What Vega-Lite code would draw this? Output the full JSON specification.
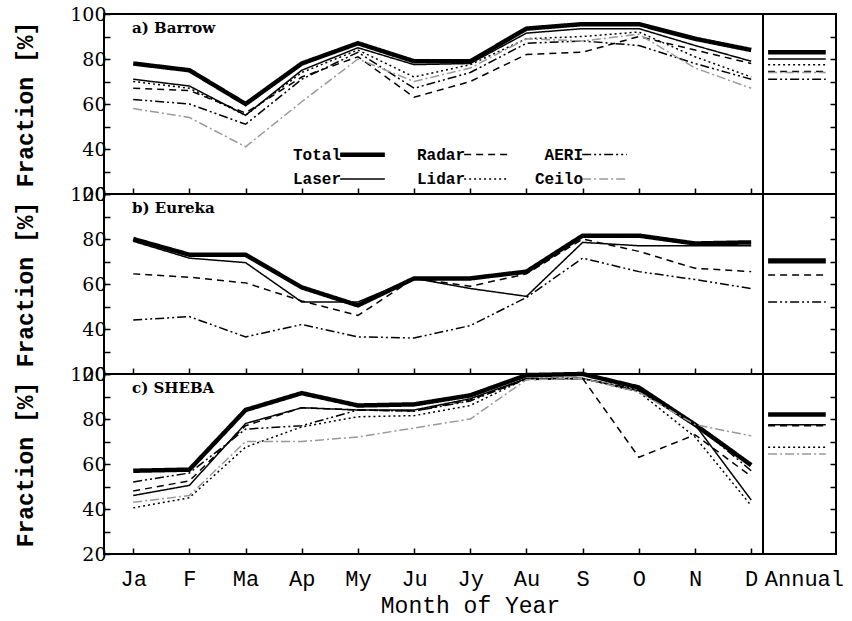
{
  "$schema": "https://vega.github.io/schema/vega-lite/v6.json",
  "background": "white",
  "padding": {"left": 13, "top": 4, "right": 4, "bottom": 4},
  "columns": 2,
  "spacing": 0,
  "bounds": "flush",
  "config": {
    "view": {"stroke": "black", "strokeWidth": 2},
    "axis": {"grid": false, "domain": false, "tickColor": "black", "tickWidth": 1.5, "labelColor": "black", "titleColor": "black"},
    "title": {"anchor": "start", "frame": "group", "offset": -31, "dx": 28, "baseline": "bottom", "font": "DejaVu Serif", "fontSize": 15, "fontWeight": "bold", "color": "black"}
  },
  "datasets": {
    "monthly": [
      {"site":"Barrow","series":"Total","month":1,"value":78},{"site":"Barrow","series":"Total","month":2,"value":75},{"site":"Barrow","series":"Total","month":3,"value":60},{"site":"Barrow","series":"Total","month":4,"value":78},{"site":"Barrow","series":"Total","month":5,"value":87},{"site":"Barrow","series":"Total","month":6,"value":79},{"site":"Barrow","series":"Total","month":7,"value":79},{"site":"Barrow","series":"Total","month":8,"value":93.5},{"site":"Barrow","series":"Total","month":9,"value":95.5},{"site":"Barrow","series":"Total","month":10,"value":95.5},{"site":"Barrow","series":"Total","month":11,"value":89},{"site":"Barrow","series":"Total","month":12,"value":84},
      {"site":"Barrow","series":"Laser","month":1,"value":71},{"site":"Barrow","series":"Laser","month":2,"value":68},{"site":"Barrow","series":"Laser","month":3,"value":55},{"site":"Barrow","series":"Laser","month":4,"value":75},{"site":"Barrow","series":"Laser","month":5,"value":85},{"site":"Barrow","series":"Laser","month":6,"value":77.5},{"site":"Barrow","series":"Laser","month":7,"value":78},{"site":"Barrow","series":"Laser","month":8,"value":91.5},{"site":"Barrow","series":"Laser","month":9,"value":93.5},{"site":"Barrow","series":"Laser","month":10,"value":93.5},{"site":"Barrow","series":"Laser","month":11,"value":86},{"site":"Barrow","series":"Laser","month":12,"value":79},
      {"site":"Barrow","series":"Radar","month":1,"value":67},{"site":"Barrow","series":"Radar","month":2,"value":66},{"site":"Barrow","series":"Radar","month":3,"value":56},{"site":"Barrow","series":"Radar","month":4,"value":72},{"site":"Barrow","series":"Radar","month":5,"value":81},{"site":"Barrow","series":"Radar","month":6,"value":63},{"site":"Barrow","series":"Radar","month":7,"value":70},{"site":"Barrow","series":"Radar","month":8,"value":82},{"site":"Barrow","series":"Radar","month":9,"value":83},{"site":"Barrow","series":"Radar","month":10,"value":90},{"site":"Barrow","series":"Radar","month":11,"value":84},{"site":"Barrow","series":"Radar","month":12,"value":78},
      {"site":"Barrow","series":"Lidar","month":1,"value":70},{"site":"Barrow","series":"Lidar","month":2,"value":67},{"site":"Barrow","series":"Lidar","month":3,"value":55},{"site":"Barrow","series":"Lidar","month":4,"value":74},{"site":"Barrow","series":"Lidar","month":5,"value":84},{"site":"Barrow","series":"Lidar","month":6,"value":72},{"site":"Barrow","series":"Lidar","month":7,"value":77.5},{"site":"Barrow","series":"Lidar","month":8,"value":89},{"site":"Barrow","series":"Lidar","month":9,"value":90},{"site":"Barrow","series":"Lidar","month":10,"value":92},{"site":"Barrow","series":"Lidar","month":11,"value":81},{"site":"Barrow","series":"Lidar","month":12,"value":72},
      {"site":"Barrow","series":"AERI","month":1,"value":62},{"site":"Barrow","series":"AERI","month":2,"value":60},{"site":"Barrow","series":"AERI","month":3,"value":51},{"site":"Barrow","series":"AERI","month":4,"value":71},{"site":"Barrow","series":"AERI","month":5,"value":83},{"site":"Barrow","series":"AERI","month":6,"value":67},{"site":"Barrow","series":"AERI","month":7,"value":74},{"site":"Barrow","series":"AERI","month":8,"value":87},{"site":"Barrow","series":"AERI","month":9,"value":88},{"site":"Barrow","series":"AERI","month":10,"value":86},{"site":"Barrow","series":"AERI","month":11,"value":78},{"site":"Barrow","series":"AERI","month":12,"value":71},
      {"site":"Barrow","series":"Ceilo","month":1,"value":58},{"site":"Barrow","series":"Ceilo","month":2,"value":54},{"site":"Barrow","series":"Ceilo","month":3,"value":41},{"site":"Barrow","series":"Ceilo","month":4,"value":61},{"site":"Barrow","series":"Ceilo","month":5,"value":80},{"site":"Barrow","series":"Ceilo","month":6,"value":70},{"site":"Barrow","series":"Ceilo","month":7,"value":76},{"site":"Barrow","series":"Ceilo","month":8,"value":89},{"site":"Barrow","series":"Ceilo","month":9,"value":88},{"site":"Barrow","series":"Ceilo","month":10,"value":91},{"site":"Barrow","series":"Ceilo","month":11,"value":76},{"site":"Barrow","series":"Ceilo","month":12,"value":67},
      {"site":"Eureka","series":"Total","month":1,"value":80},{"site":"Eureka","series":"Total","month":2,"value":73},{"site":"Eureka","series":"Total","month":3,"value":73},{"site":"Eureka","series":"Total","month":4,"value":58.5},{"site":"Eureka","series":"Total","month":5,"value":50.5},{"site":"Eureka","series":"Total","month":6,"value":62.5},{"site":"Eureka","series":"Total","month":7,"value":62.5},{"site":"Eureka","series":"Total","month":8,"value":65.5},{"site":"Eureka","series":"Total","month":9,"value":81.5},{"site":"Eureka","series":"Total","month":10,"value":81.5},{"site":"Eureka","series":"Total","month":11,"value":78},{"site":"Eureka","series":"Total","month":12,"value":78.5},
      {"site":"Eureka","series":"Laser","month":1,"value":79},{"site":"Eureka","series":"Laser","month":2,"value":71.5},{"site":"Eureka","series":"Laser","month":3,"value":69.5},{"site":"Eureka","series":"Laser","month":4,"value":52},{"site":"Eureka","series":"Laser","month":5,"value":52},{"site":"Eureka","series":"Laser","month":6,"value":62.5},{"site":"Eureka","series":"Laser","month":7,"value":58},{"site":"Eureka","series":"Laser","month":8,"value":54.5},{"site":"Eureka","series":"Laser","month":9,"value":78.5},{"site":"Eureka","series":"Laser","month":10,"value":77},{"site":"Eureka","series":"Laser","month":11,"value":77},{"site":"Eureka","series":"Laser","month":12,"value":77},
      {"site":"Eureka","series":"Radar","month":1,"value":64.5},{"site":"Eureka","series":"Radar","month":2,"value":63},{"site":"Eureka","series":"Radar","month":3,"value":60.5},{"site":"Eureka","series":"Radar","month":4,"value":52.5},{"site":"Eureka","series":"Radar","month":5,"value":46},{"site":"Eureka","series":"Radar","month":6,"value":62.5},{"site":"Eureka","series":"Radar","month":7,"value":59},{"site":"Eureka","series":"Radar","month":8,"value":64.5},{"site":"Eureka","series":"Radar","month":9,"value":80},{"site":"Eureka","series":"Radar","month":10,"value":74.5},{"site":"Eureka","series":"Radar","month":11,"value":67},{"site":"Eureka","series":"Radar","month":12,"value":65.5},
      {"site":"Eureka","series":"AERI","month":1,"value":44},{"site":"Eureka","series":"AERI","month":2,"value":45.5},{"site":"Eureka","series":"AERI","month":3,"value":36.5},{"site":"Eureka","series":"AERI","month":4,"value":42},{"site":"Eureka","series":"AERI","month":5,"value":36.5},{"site":"Eureka","series":"AERI","month":6,"value":36},{"site":"Eureka","series":"AERI","month":7,"value":41.5},{"site":"Eureka","series":"AERI","month":8,"value":54},{"site":"Eureka","series":"AERI","month":9,"value":71.5},{"site":"Eureka","series":"AERI","month":10,"value":65.5},{"site":"Eureka","series":"AERI","month":11,"value":62},{"site":"Eureka","series":"AERI","month":12,"value":58},
      {"site":"SHEBA","series":"Total","month":1,"value":57},{"site":"SHEBA","series":"Total","month":2,"value":57.5},{"site":"SHEBA","series":"Total","month":3,"value":84},{"site":"SHEBA","series":"Total","month":4,"value":91.5},{"site":"SHEBA","series":"Total","month":5,"value":86},{"site":"SHEBA","series":"Total","month":6,"value":86.5},{"site":"SHEBA","series":"Total","month":7,"value":90.5},{"site":"SHEBA","series":"Total","month":8,"value":99.5},{"site":"SHEBA","series":"Total","month":9,"value":100},{"site":"SHEBA","series":"Total","month":10,"value":94},{"site":"SHEBA","series":"Total","month":11,"value":77.5},{"site":"SHEBA","series":"Total","month":12,"value":59.5},
      {"site":"SHEBA","series":"Laser","month":1,"value":46},{"site":"SHEBA","series":"Laser","month":2,"value":50.5},{"site":"SHEBA","series":"Laser","month":3,"value":78},{"site":"SHEBA","series":"Laser","month":4,"value":85},{"site":"SHEBA","series":"Laser","month":5,"value":84},{"site":"SHEBA","series":"Laser","month":6,"value":84},{"site":"SHEBA","series":"Laser","month":7,"value":89},{"site":"SHEBA","series":"Laser","month":8,"value":98},{"site":"SHEBA","series":"Laser","month":9,"value":98},{"site":"SHEBA","series":"Laser","month":10,"value":92.5},{"site":"SHEBA","series":"Laser","month":11,"value":77.5},{"site":"SHEBA","series":"Laser","month":12,"value":44},
      {"site":"SHEBA","series":"Radar","month":1,"value":48},{"site":"SHEBA","series":"Radar","month":2,"value":52.5},{"site":"SHEBA","series":"Radar","month":3,"value":77},{"site":"SHEBA","series":"Radar","month":4,"value":85},{"site":"SHEBA","series":"Radar","month":5,"value":84},{"site":"SHEBA","series":"Radar","month":6,"value":83.5},{"site":"SHEBA","series":"Radar","month":7,"value":88.5},{"site":"SHEBA","series":"Radar","month":8,"value":97.5},{"site":"SHEBA","series":"Radar","month":9,"value":98},{"site":"SHEBA","series":"Radar","month":10,"value":63},{"site":"SHEBA","series":"Radar","month":11,"value":73},{"site":"SHEBA","series":"Radar","month":12,"value":54.5},
      {"site":"SHEBA","series":"AERI","month":1,"value":52},{"site":"SHEBA","series":"AERI","month":2,"value":56},{"site":"SHEBA","series":"AERI","month":3,"value":75.5},{"site":"SHEBA","series":"AERI","month":4,"value":77},{"site":"SHEBA","series":"AERI","month":5,"value":84},{"site":"SHEBA","series":"AERI","month":6,"value":83.5},{"site":"SHEBA","series":"AERI","month":7,"value":88},{"site":"SHEBA","series":"AERI","month":8,"value":98},{"site":"SHEBA","series":"AERI","month":9,"value":98},{"site":"SHEBA","series":"AERI","month":10,"value":93},{"site":"SHEBA","series":"AERI","month":11,"value":78},{"site":"SHEBA","series":"AERI","month":12,"value":57},
      {"site":"SHEBA","series":"Lidar","month":1,"value":40.5},{"site":"SHEBA","series":"Lidar","month":2,"value":45},{"site":"SHEBA","series":"Lidar","month":3,"value":67.5},{"site":"SHEBA","series":"Lidar","month":4,"value":76.5},{"site":"SHEBA","series":"Lidar","month":5,"value":81},{"site":"SHEBA","series":"Lidar","month":6,"value":81.5},{"site":"SHEBA","series":"Lidar","month":7,"value":86},{"site":"SHEBA","series":"Lidar","month":8,"value":98},{"site":"SHEBA","series":"Lidar","month":9,"value":98},{"site":"SHEBA","series":"Lidar","month":10,"value":92},{"site":"SHEBA","series":"Lidar","month":11,"value":72},{"site":"SHEBA","series":"Lidar","month":12,"value":41.5},
      {"site":"SHEBA","series":"Ceilo","month":1,"value":43},{"site":"SHEBA","series":"Ceilo","month":2,"value":46},{"site":"SHEBA","series":"Ceilo","month":3,"value":70},{"site":"SHEBA","series":"Ceilo","month":4,"value":70},{"site":"SHEBA","series":"Ceilo","month":5,"value":72},{"site":"SHEBA","series":"Ceilo","month":6,"value":76},{"site":"SHEBA","series":"Ceilo","month":7,"value":80},{"site":"SHEBA","series":"Ceilo","month":8,"value":97.5},{"site":"SHEBA","series":"Ceilo","month":9,"value":98},{"site":"SHEBA","series":"Ceilo","month":10,"value":92},{"site":"SHEBA","series":"Ceilo","month":11,"value":77.5},{"site":"SHEBA","series":"Ceilo","month":12,"value":72.5}
    ],
    "annual": [
      {"site":"Barrow","series":"Total","value":83},{"site":"Barrow","series":"Laser","value":80},{"site":"Barrow","series":"Lidar","value":77.5},{"site":"Barrow","series":"Radar","value":74.5},{"site":"Barrow","series":"Ceilo","value":74},{"site":"Barrow","series":"AERI","value":71},
      {"site":"Eureka","series":"Total","value":70.5},{"site":"Eureka","series":"Laser","value":69.5},{"site":"Eureka","series":"Radar","value":64},{"site":"Eureka","series":"AERI","value":52},
      {"site":"SHEBA","series":"Total","value":82},{"site":"SHEBA","series":"Laser","value":77.5},{"site":"SHEBA","series":"Radar","value":77},{"site":"SHEBA","series":"Lidar","value":67.5},{"site":"SHEBA","series":"Ceilo","value":64.5}
    ]
  },
  "resolve": {"scale": {"strokeDash": "independent", "strokeWidth": "independent", "color": "independent"}},
  "concat": [
    {
      "width": 659, "height": 180,
      "title": {"text": "a) Barrow"},
      "data": {"name": "monthly"},
      "transform": [{"filter": "datum.site == 'Barrow'"}],
      "mark": {"type": "line", "strokeJoin": "miter"},
      "encoding": {
        "x": {"field": "month", "type": "quantitative", "scale": {"domain": [0.48, 12.21], "nice": false, "zero": false},
              "axis": {"values": [1,2,3,4,5,6,7,8,9,10,11,12], "labels": false, "title": null, "tickSize": -6}},
        "y": {"field": "value", "type": "quantitative", "scale": {"domain": [20, 100], "nice": false, "zero": false},
              "axis": {"values": [20,30,40,50,60,70,80,90,100], "labelExpr": "datum.value % 20 == 0 ? datum.label : ''", "tickSize": -6, "labelPadding": 4, "labelFont": "DejaVu Serif", "labelFontSize": 19, "labelOverlap": false, "labelFlush": false, "labelBound": false, "title": "Fraction [%]", "titleFont": "Liberation Mono", "titleFontWeight": "bold", "titleFontSize": 23, "titlePadding": 32}},
        "strokeDash": {"field": "series", "type": "nominal",
              "scale": {"domain": ["Total","Radar","AERI","Laser","Lidar","Ceilo"], "range": [[1,0],[7,5],[9,3,2,3,2,3],[1,0],[2,3],[9,3,2,3]]},
              "legend": {"orient": "none", "direction": "horizontal", "legendX": 245, "legendY": 127, "columns": 3, "columnPadding": 22, "rowPadding": 3, "symbolType": "M-2,0H2", "symbolSize": 500, "labelFont": "Liberation Mono", "labelFontWeight": "bold", "labelFontSize": 16, "labelColor": "black", "labelAlign": "right", "labelOffset": -35, "title": null}},
        "strokeWidth": {"field": "series", "type": "nominal",
              "scale": {"type": "ordinal", "domain": ["Total","Radar","AERI","Laser","Lidar","Ceilo"], "range": [4.5,1.5,1.5,1.5,1.5,1.5]}},
        "color": {"field": "series", "type": "nominal",
              "scale": {"domain": ["Total","Radar","AERI","Laser","Lidar","Ceilo"], "range": ["black","black","black","black","black","#999999"]}}
      }
    },
    {
      "width": 73, "height": 180,
      "data": {"name": "annual"},
      "transform": [{"filter": "datum.site == 'Barrow'"}],
      "mark": {"type": "rule"},
      "encoding": {
        "x": {"datum": 0.07, "type": "quantitative", "scale": {"domain": [0, 1], "nice": false, "zero": false}, "axis": null},
        "x2": {"datum": 0.86},
        "y": {"field": "value", "type": "quantitative", "scale": {"domain": [20, 100], "nice": false, "zero": false},
              "axis": {"orient": "right", "values": [30,40,50,60,70,80,90], "labels": false, "title": null, "tickSize": -6}},
        "strokeDash": {"field": "series", "type": "nominal", "legend": null,
              "scale": {"domain": ["Total","Radar","AERI","Laser","Lidar","Ceilo"], "range": [[1,0],[7,5],[9,3,2,3,2,3],[1,0],[2,3],[9,3,2,3]]}},
        "strokeWidth": {"field": "series", "type": "nominal", "legend": null,
              "scale": {"type": "ordinal", "domain": ["Total","Radar","AERI","Laser","Lidar","Ceilo"], "range": [4.5,1.5,1.5,1.5,1.5,1.5]}},
        "color": {"field": "series", "type": "nominal", "legend": null,
              "scale": {"domain": ["Total","Radar","AERI","Laser","Lidar","Ceilo"], "range": ["black","black","black","black","black","#999999"]}}
      }
    },
    {
      "width": 659, "height": 180,
      "title": {"text": "b) Eureka"},
      "data": {"name": "monthly"},
      "transform": [{"filter": "datum.site == 'Eureka'"}],
      "mark": {"type": "line", "strokeJoin": "miter"},
      "encoding": {
        "x": {"field": "month", "type": "quantitative", "scale": {"domain": [0.48, 12.21], "nice": false, "zero": false},
              "axis": {"values": [1,2,3,4,5,6,7,8,9,10,11,12], "labels": false, "title": null, "tickSize": -6}},
        "y": {"field": "value", "type": "quantitative", "scale": {"domain": [20, 100], "nice": false, "zero": false},
              "axis": {"values": [20,30,40,50,60,70,80,90,100], "labelExpr": "datum.value % 20 == 0 ? datum.label : ''", "tickSize": -6, "labelPadding": 4, "labelFont": "DejaVu Serif", "labelFontSize": 19, "labelOverlap": false, "labelFlush": false, "labelBound": false, "title": "Fraction [%]", "titleFont": "Liberation Mono", "titleFontWeight": "bold", "titleFontSize": 23, "titlePadding": 32}},
        "strokeDash": {"field": "series", "type": "nominal", "legend": null,
              "scale": {"domain": ["Total","Radar","AERI","Laser","Lidar","Ceilo"], "range": [[1,0],[7,5],[9,3,2,3,2,3],[1,0],[2,3],[9,3,2,3]]}},
        "strokeWidth": {"field": "series", "type": "nominal", "legend": null,
              "scale": {"type": "ordinal", "domain": ["Total","Radar","AERI","Laser","Lidar","Ceilo"], "range": [4.5,1.5,1.5,1.5,1.5,1.5]}},
        "color": {"field": "series", "type": "nominal", "legend": null,
              "scale": {"domain": ["Total","Radar","AERI","Laser","Lidar","Ceilo"], "range": ["black","black","black","black","black","#999999"]}}
      }
    },
    {
      "width": 73, "height": 180,
      "data": {"name": "annual"},
      "transform": [{"filter": "datum.site == 'Eureka'"}],
      "mark": {"type": "rule"},
      "encoding": {
        "x": {"datum": 0.07, "type": "quantitative", "scale": {"domain": [0, 1], "nice": false, "zero": false}, "axis": null},
        "x2": {"datum": 0.86},
        "y": {"field": "value", "type": "quantitative", "scale": {"domain": [20, 100], "nice": false, "zero": false},
              "axis": {"orient": "right", "values": [30,40,50,60,70,80,90], "labels": false, "title": null, "tickSize": -6}},
        "strokeDash": {"field": "series", "type": "nominal", "legend": null,
              "scale": {"domain": ["Total","Radar","AERI","Laser","Lidar","Ceilo"], "range": [[1,0],[7,5],[9,3,2,3,2,3],[1,0],[2,3],[9,3,2,3]]}},
        "strokeWidth": {"field": "series", "type": "nominal", "legend": null,
              "scale": {"type": "ordinal", "domain": ["Total","Radar","AERI","Laser","Lidar","Ceilo"], "range": [4.5,1.5,1.5,1.5,1.5,1.5]}},
        "color": {"field": "series", "type": "nominal", "legend": null,
              "scale": {"domain": ["Total","Radar","AERI","Laser","Lidar","Ceilo"], "range": ["black","black","black","black","black","#999999"]}}
      }
    },
    {
      "width": 659, "height": 180,
      "title": {"text": "c) SHEBA"},
      "data": {"name": "monthly"},
      "transform": [{"filter": "datum.site == 'SHEBA'"}],
      "mark": {"type": "line", "strokeJoin": "miter"},
      "encoding": {
        "x": {"field": "month", "type": "quantitative", "scale": {"domain": [0.48, 12.21], "nice": false, "zero": false},
              "axis": {"values": [1,2,3,4,5,6,7,8,9,10,11,12], "labelExpr": "['Ja','F','Ma','Ap','My','Ju','Jy','Au','S','O','N','D'][datum.value - 1]", "tickSize": -6, "labelPadding": 20, "labelFont": "Liberation Mono", "labelFontSize": 22, "labelOverlap": false, "labelFlush": false, "labelBound": false, "title": "Month of Year", "titleFont": "Liberation Mono", "titleFontWeight": "normal", "titleFontSize": 23, "titleX": 366, "titleY": 40, "titleAnchor": "middle", "titleBaseline": "top"}},
        "y": {"field": "value", "type": "quantitative", "scale": {"domain": [20, 100], "nice": false, "zero": false},
              "axis": {"values": [20,30,40,50,60,70,80,90,100], "labelExpr": "datum.value % 20 == 0 ? datum.label : ''", "tickSize": -6, "labelPadding": 4, "labelFont": "DejaVu Serif", "labelFontSize": 19, "labelOverlap": false, "labelFlush": false, "labelBound": false, "title": "Fraction [%]", "titleFont": "Liberation Mono", "titleFontWeight": "bold", "titleFontSize": 23, "titlePadding": 32}},
        "strokeDash": {"field": "series", "type": "nominal", "legend": null,
              "scale": {"domain": ["Total","Radar","AERI","Laser","Lidar","Ceilo"], "range": [[1,0],[7,5],[9,3,2,3,2,3],[1,0],[2,3],[9,3,2,3]]}},
        "strokeWidth": {"field": "series", "type": "nominal", "legend": null,
              "scale": {"type": "ordinal", "domain": ["Total","Radar","AERI","Laser","Lidar","Ceilo"], "range": [4.5,1.5,1.5,1.5,1.5,1.5]}},
        "color": {"field": "series", "type": "nominal", "legend": null,
              "scale": {"domain": ["Total","Radar","AERI","Laser","Lidar","Ceilo"], "range": ["black","black","black","black","black","#999999"]}}
      }
    },
    {
      "width": 73, "height": 180,
      "data": {"name": "annual"},
      "transform": [{"filter": "datum.site == 'SHEBA'"}],
      "mark": {"type": "rule"},
      "encoding": {
        "x": {"datum": 0.07, "type": "quantitative", "scale": {"domain": [0, 1], "nice": false, "zero": false},
              "axis": {"values": [0.56], "labelExpr": "'Annual'", "ticks": false, "labelPadding": 14, "labelFont": "Liberation Mono", "labelFontSize": 22, "labelFlush": false, "labelBound": false, "labelOverlap": false, "title": null}},
        "x2": {"datum": 0.86},
        "y": {"field": "value", "type": "quantitative", "scale": {"domain": [20, 100], "nice": false, "zero": false},
              "axis": {"orient": "right", "values": [30,40,50,60,70,80,90], "labels": false, "title": null, "tickSize": -6}},
        "strokeDash": {"field": "series", "type": "nominal", "legend": null,
              "scale": {"domain": ["Total","Radar","AERI","Laser","Lidar","Ceilo"], "range": [[1,0],[7,5],[9,3,2,3,2,3],[1,0],[2,3],[9,3,2,3]]}},
        "strokeWidth": {"field": "series", "type": "nominal", "legend": null,
              "scale": {"type": "ordinal", "domain": ["Total","Radar","AERI","Laser","Lidar","Ceilo"], "range": [4.5,1.5,1.5,1.5,1.5,1.5]}},
        "color": {"field": "series", "type": "nominal", "legend": null,
              "scale": {"domain": ["Total","Radar","AERI","Laser","Lidar","Ceilo"], "range": ["black","black","black","black","black","#999999"]}}
      }
    }
  ]
}
